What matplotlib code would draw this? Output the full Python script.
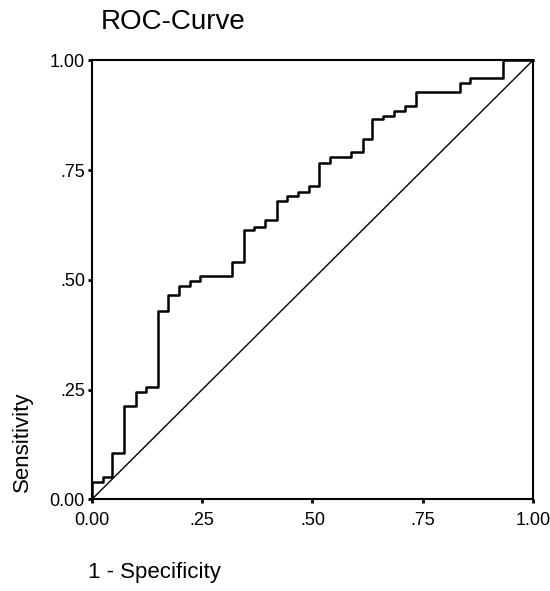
import matplotlib
matplotlib.use("Agg")
import matplotlib.pyplot as plt

plt.rcParams['font.family'] = ['Liberation Sans', 'DejaVu Sans']

# ROC corner points (1 - specificity, sensitivity)
fpr = [0.000, 0.000, 0.025, 0.045, 0.074, 0.100, 0.122, 0.150, 0.173, 0.198,
       0.223, 0.245, 0.318, 0.345, 0.368, 0.393, 0.419, 0.442, 0.468, 0.493,
       0.516, 0.541, 0.588, 0.614, 0.636, 0.660, 0.686, 0.711, 0.736, 0.834,
       0.857, 0.931, 1.000]
tpr = [0.000, 0.039, 0.050, 0.105, 0.213, 0.245, 0.256, 0.430, 0.465, 0.487,
       0.497, 0.508, 0.541, 0.613, 0.620, 0.636, 0.680, 0.690, 0.700, 0.714,
       0.767, 0.780, 0.790, 0.820, 0.867, 0.873, 0.884, 0.897, 0.927, 0.949,
       0.960, 1.000, 1.000]

ticks = [0.0, 0.25, 0.5, 0.75, 1.0]
tick_labels = ["0.00", ".25", ".50", ".75", "1.00"]

fig = plt.figure(figsize=(5.5, 5.91), dpi=100)
ax = fig.add_axes([0.167, 0.155, 0.802, 0.743])

ax.plot(fpr, tpr, drawstyle="steps-post", color="black", lw=1.8, clip_on=False)
ax.plot([0, 1], [0, 1], color="black", lw=1.0, clip_on=False)

ax.set_xlim(0, 1)
ax.set_ylim(0, 1)
ax.set_xticks(ticks)
ax.set_xticklabels(tick_labels)
ax.set_yticks(ticks)
ax.set_yticklabels(tick_labels)
ax.tick_params(direction="out", length=3, width=2, labelsize=13)
ax.tick_params(axis="x", pad=6)
ax.tick_params(axis="y", pad=2)
for s in ax.spines.values():
    s.set_linewidth(1.5)

fig.text(0.184, 0.962, "ROC-Curve", fontsize=20, ha="left", va="center")
fig.text(0.160, 0.032, "1 - Specificity", fontsize=16, ha="left", va="center")
fig.text(0.040, 0.253, "Sensitivity", fontsize=16, rotation=90,
         ha="center", va="center")

fig.savefig("out.png", dpi=100)
